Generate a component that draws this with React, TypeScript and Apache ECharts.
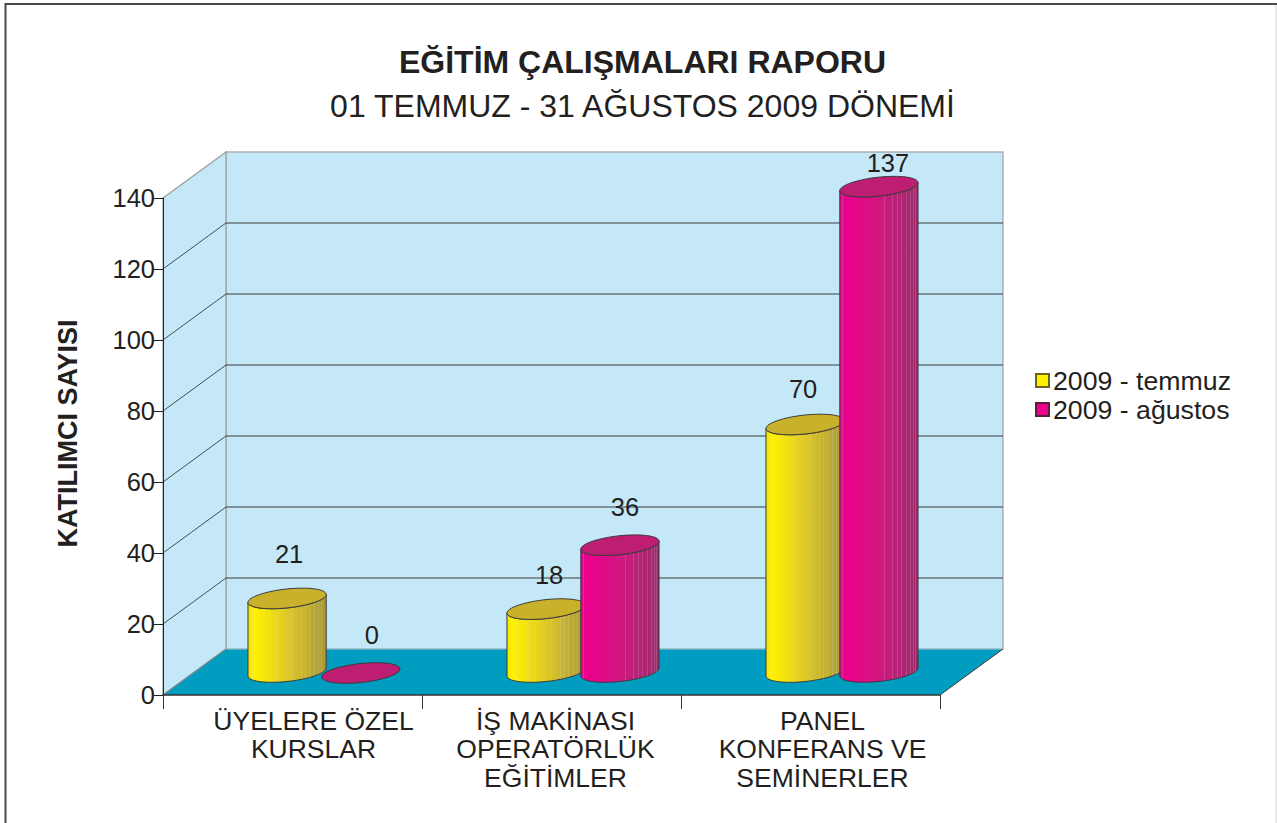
import React, { useEffect, useRef } from "react";
import * as echarts from "echarts";

const titleMain = "EĞİTİM ÇALIŞMALARI RAPORU";
const titleSub = "01 TEMMUZ - 31 AĞUSTOS 2009 DÖNEMİ";
const yAxisTitle = "KATILIMCI SAYISI";
const categories = [
  "ÜYELERE ÖZEL\nKURSLAR",
  "İŞ MAKİNASI\nOPERATÖRLÜK\nEĞİTİMLER",
  "PANEL\nKONFERANS VE\nSEMİNERLER",
];
const seriesNames = ["2009 - temmuz", "2009 - ağustos"];
const temmuzValues = [21, 18, 70];
const agustosValues = [0, 36, 137];
const yTicks = [0, 20, 40, 60, 80, 100, 120, 140];

const FONT = '"Liberation Sans", Arial, sans-serif';
const INK = "#231f20";
const DEPTH_X = 63;
const DEPTH_Y = -46;
// hand placement of the category labels and of the value labels relative to each cylinder's top
const categoryLabelShift = [21, 4, 12];
const temmuzLabelShift = [[2, -44], [3, -34], [-2, -36]];
const agustosLabelShift = [[11, -38], [5, -38], [9, -24]];

// angles of the thin facet seams on the cylinders' faces
const temmuzFacets = [2.69, 2.46, 2.04, 1.87, 1.45, 1.22, 1.09, 0.97, 0.8, 0.67, 0.53];
const agustosFacets = [2.8, 1.45, 1.22, 1.09, 0.97, 0.8, 0.67, 0.53, 0.4];

function ellipse(cx: number, cy: number, a: number, b: number, s: number, from: number, to: number, n: number) {
  const pts: number[][] = [];
  for (let i = 0; i <= n; i++) {
    const t = from + ((to - from) * i) / n;
    pts.push([cx + a * Math.cos(t), cy + b * Math.sin(t) - s * Math.cos(t)]);
  }
  return pts;
}

function cylinderSeries(
  name: string,
  values: number[],
  shifts: number[][],
  facets: number[],
  side: number,
  z: number,
  swatch: string,
  swatchBorder: string,
  stops: [number, string][],
  cap: string,
) {
  return {
    type: "custom",
    name,
    z,
    silent: true,
    itemStyle: { color: swatch, borderColor: swatchBorder, borderWidth: 1 },
    encode: { x: 0, y: 1 },
    data: values.map((v, i) => [i, v]),
    renderItem: (_p: any, api: any) => {
      const i = api.value(0);
      const v = api.value(1);
      const band = api.size([1, 0])[0];
      const base = api.coord([i, 0]);
      const top = api.coord([i, v]);
      const a = band * 0.151;
      const cx = base[0] + DEPTH_X / 2 + side * band * 0.1425;
      const by = base[1] + DEPTH_Y / 2;
      const ty = top[1] + DEPTH_Y / 2 + 1;
      const b = 9.5;
      const s = 4;
      const children: any[] = [];
      const stroke = "#3a3a3a";
      if (v > 0) {
        const lower = ellipse(cx, by, a, b, s, Math.PI, 0, 32);
        const upper = ellipse(cx, ty, a, b, s, 0, Math.PI, 32);
        const fill = new echarts.graphic.LinearGradient(
          0, 0, 1, 0,
          stops.map(([offset, color]) => ({ offset, color })),
        );
        children.push({
          type: "polygon",
          shape: { points: [...lower, ...upper] },
          style: { fill, stroke, lineWidth: 1 },
        });
        facets.forEach((ang) => {
          const x = Math.round(cx + a * Math.cos(ang)) + 0.5;
          const y2 = by + b * Math.sin(ang) - s * Math.cos(ang);
          const y1 = ty + b * Math.sin(ang) - s * Math.cos(ang);
          children.push({
            type: "line",
            shape: { x1: x, y1, x2: x, y2 },
            style: { stroke: "rgba(215,235,240,0.16)", lineWidth: 1 },
          });
        });
      }
      children.push({
        type: "polygon",
        shape: { points: ellipse(cx, ty, a, b, s, 0, Math.PI * 2, 64) },
        style: { fill: cap, stroke, lineWidth: 1 },
      });
      children.push({
        type: "text",
        x: cx + shifts[i][0],
        y: ty + shifts[i][1],
        style: {
          text: String(v),
          fill: INK,
          font: `25.5px ${FONT}`,
          align: "center",
          verticalAlign: "middle",
        },
      });
      return { type: "group", children };
    },
  };
}

const wallSeries = {
  type: "custom",
  z: 1,
  silent: true,
  encode: { y: 0 },
  data: yTicks.map((t) => [t]),
  renderItem: (p: any, api: any) => {
    const g = p.coordSys;
    const left = g.x;
    const right = g.x + g.width;
    const y = api.coord([0, api.value(0)])[1];
    const y0 = api.coord([0, 0])[1];
    const yMax = api.coord([0, yTicks[yTicks.length - 1]])[1];
    const bx = DEPTH_X;
    const by = DEPTH_Y;
    const children: any[] = [];
    if (p.dataIndex === 0) {
      children.push(
        {
          type: "polygon",
          shape: { points: [[left + bx, yMax + by], [right + bx, yMax + by], [right + bx, y0 + by], [left + bx, y0 + by]] },
          style: { fill: "#c5e8f9", stroke: "#a9b1b5", lineWidth: 1.5 },
        },
        {
          type: "polygon",
          shape: { points: [[left, yMax], [left + bx, yMax + by], [left + bx, y0 + by], [left, y0]] },
          style: { fill: "#c5e8f9", stroke: "#9a9fa2", lineWidth: 1.2 },
        },
        {
          type: "polygon",
          shape: { points: [[left, y0], [right, y0], [right + bx, y0 + by], [left + bx, y0 + by]] },
          style: { fill: "#009dc0" },
        },
        { type: "line", shape: { x1: left, y1: y0, x2: left + bx, y2: y0 + by }, style: { stroke: "#7d8a8f", lineWidth: 1.2 } },
        { type: "line", shape: { x1: left + bx, y1: y0 + by, x2: right + bx, y2: y0 + by }, style: { stroke: "#a4c4d2", lineWidth: 1.2 } },
        { type: "line", shape: { x1: right, y1: y0, x2: right + bx, y2: y0 + by }, style: { stroke: "#3c3c3c", lineWidth: 1 } },
      );
    } else if (p.dataIndex < yTicks.length - 1) {
      children.push(
        { type: "line", shape: { x1: left, y1: y, x2: left + bx, y2: y + by }, style: { stroke: "#3a3a3a", lineWidth: 0.9 } },
        { type: "line", shape: { x1: left + bx, y1: y + by, x2: right + bx, y2: y + by }, style: { stroke: "#3a3a3a", lineWidth: 1 } },
      );
    }
    return { type: "group", children };
  },
};

export default function App() {
  const ref = useRef<HTMLDivElement>(null);
  useEffect(() => {
    document.body.style.margin = "0";
    const chart = echarts.init(ref.current!, undefined, { renderer: "svg" });
    chart.setOption({
      animation: false,
      backgroundColor: "#ffffff",
      textStyle: { fontFamily: FONT },
      title: [
        {
          text: titleMain,
          left: 637.5,
          top: 41,
          textAlign: "center",
          textStyle: { fontFamily: FONT, fontSize: 32, fontWeight: "bold", color: INK },
        },
        {
          text: titleSub,
          left: 637.5,
          top: 85,
          textAlign: "center",
          textStyle: { fontFamily: FONT, fontSize: 32, fontWeight: "normal", color: INK },
        },
      ],
      legend: {
        left: 1030,
        top: 362,
        orient: "vertical",
        icon: "rect",
        itemWidth: 13,
        itemHeight: 13,
        itemGap: 2,
        selectedMode: false,
        data: seriesNames,
        textStyle: { fontFamily: FONT, fontSize: 26.7, color: INK, padding: [0, 0, 0, -1] },
      },
      grid: { left: 163, top: 198, width: 777, height: 497 },
      xAxis: {
        type: "category",
        data: categories.map((value, i) => ({
          value,
          textStyle: { padding: [0, 0, 0, categoryLabelShift[i] * 2] },
        })),
        z: 5,
        axisLine: { show: true, lineStyle: { color: "#333333", width: 1.5 } },
        axisTick: { show: true, alignWithLabel: false, interval: 0, length: 14, lineStyle: { color: "#333333", width: 1 } },
        axisLabel: { interval: 0, margin: 11.5, fontFamily: FONT, fontSize: 26.5, lineHeight: 28.5, color: INK },
      },
      yAxis: {
        type: "value",
        min: 0,
        max: 140,
        interval: 20,
        z: 5,
        name: yAxisTitle,
        nameLocation: "middle",
        nameGap: 82,
        nameTextStyle: { fontFamily: FONT, fontSize: 27, fontWeight: "bold", color: INK, padding: [0, 0, 0, 26] },
        splitLine: { show: false },
        axisLine: { show: true, lineStyle: { color: "#222222", width: 1 } },
        axisTick: { show: true, length: 9, lineStyle: { color: "#222222", width: 1 } },
        axisLabel: { margin: 8, fontFamily: FONT, fontSize: 25.5, color: INK },
      },
      graphic: [
        {
          type: "polyline",
          silent: true,
          shape: { points: [[5.5, 823], [5.5, 4], [1277, 4]] },
          style: { fill: "none", stroke: "#4a4a4a", lineWidth: 2 },
        },
        {
          type: "line",
          silent: true,
          shape: { x1: 1276, y1: 5, x2: 1276, y2: 823 },
          style: { stroke: "#e3e3e3", lineWidth: 1.5 },
        },
      ],
      series: [
        wallSeries,
        cylinderSeries(seriesNames[0], temmuzValues, temmuzLabelShift, temmuzFacets, -1, 2, "#fff200", "#6b6420",
          [[0, "#f2e400"], [0.08, "#fff200"], [0.5, "#dfc928"], [1, "#a8983a"]], "#c9b12c"),
        cylinderSeries(seriesNames[1], agustosValues, agustosLabelShift, agustosFacets, 1, 3, "#ec008c", "#5a2040",
          [[0, "#e0088a"], [0.1, "#ec008c"], [0.55, "#cc1a7e"], [1, "#9c2c6a"]], "#bd1e72"),
      ],
    });
    return () => chart.dispose();
  }, []);
  return <div ref={ref} style={{ width: 1277, height: 823, position: "fixed", left: 0, top: 0 }} />;
}
